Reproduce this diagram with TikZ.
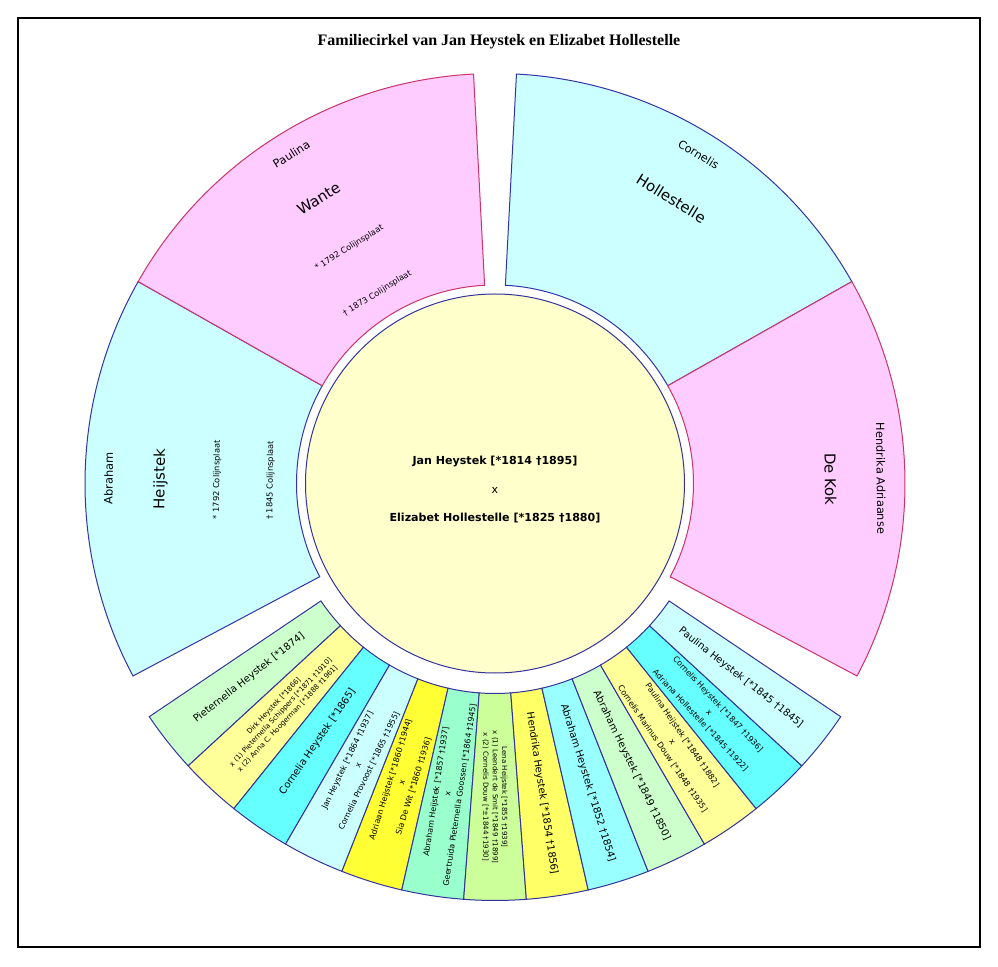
\documentclass[tikz,border=0pt]{standalone}
\usepackage{fontspec}
\setmainfont{DejaVu Sans}
\newfontfamily\titlefont{Liberation Serif}
\usepackage{tikz}
\usetikzlibrary{positioning}

\definecolor{manfill}{HTML}{CCFFFF}
\definecolor{manline}{HTML}{3333AA}
\definecolor{womanfill}{HTML}{FFCCFF}
\definecolor{womanline}{HTML}{CC3366}
\definecolor{centrefill}{HTML}{FFFFCC}
\definecolor{kidline}{HTML}{333399}
\definecolor{kidgreen}{HTML}{CCFFCC}
\definecolor{kidpale}{HTML}{FFFF99}
\definecolor{kidcyan}{HTML}{66FFFF}
\definecolor{kidice}{HTML}{CCFFFF}
\definecolor{kidyellow}{HTML}{FFFF33}
\definecolor{kidmint}{HTML}{99FFCC}
\definecolor{kidlime}{HTML}{CCFF99}
\definecolor{kidgold}{HTML}{FFFF66}
\definecolor{kidaqua}{HTML}{99FFFF}

\tikzset{
  frame/.style={draw=black, line width=1pt},
  man/.style={fill=manfill, draw=manline, line width=0.75pt},
  woman/.style={fill=womanfill, draw=womanline, line width=0.75pt},
  centre/.style={fill=centrefill, draw=kidline, line width=0.75pt},
  kid/.style={draw=kidline, line width=0.75pt},
  titletext/.style={font=\titlefont\bfseries\fontsize{12}{14}\selectfont},
  centretext/.style={font=\bfseries\fontsize{8.3}{10}\selectfont, inner sep=0pt},
  firstname/.style={font=\fontsize{8.5}{10}\selectfont, inner sep=0pt},
  surname/.style={font=\fontsize{11.2}{13}\selectfont, inner sep=0pt},
  lifedates/.style={font=\fontsize{6.2}{7}\selectfont, inner sep=0pt},
  kidname/.style={font=\fontsize{7.5}{9}\selectfont, inner sep=0pt},
  kidpair/.style={font=\fontsize{6}{9}\selectfont, align=center, inner sep=0pt},
  kidtrio/.style={font=\fontsize{5.3}{7}\selectfont, align=center, inner sep=0pt}
}

\begin{document}
\begin{tikzpicture}[x=0.75pt, y=0.75pt]
\useasboundingbox (-495,-482.5) rectangle (503,483.5);
\draw[frame] (-477,-463.5) rectangle (485,465.5); % outer frame
\node[titletext] (title) at (4,441.5) {Familiecirkel van Jan Heystek en Elizabet Hollestelle};

% parents
\filldraw[man] (150.5:198.5) -- (150.5:410) arc[start angle=150.5, end angle=208, radius=410] -- (208:198.5) arc[start angle=208, end angle=150.5, radius=198.5] -- cycle; % Heijstek
\filldraw[man] (29.5:198.5) -- (29.5:410) arc[start angle=29.5, end angle=87, radius=410] -- (87:198.5) arc[start angle=87, end angle=29.5, radius=198.5] -- cycle; % Hollestelle
\filldraw[woman] (93:198.5) -- (93:410) arc[start angle=93, end angle=150.5, radius=410] -- (150.5:198.5) arc[start angle=150.5, end angle=93, radius=198.5] -- cycle; % Wante
\filldraw[woman] (-28:198.5) -- (-28:410) arc[start angle=-28, end angle=29.5, radius=410] -- (29.5:198.5) arc[start angle=29.5, end angle=-28, radius=198.5] -- cycle; % De Kok

\node[firstname, rotate=89.25] (abrahamfirst) at (179.25:386.5) {Abraham};
\node[surname, rotate=89.25] (heijstek) at (179.25:334.5) {Heijstek};
\node[lifedates, rotate=89.25] (abrahamborn) at (179.25:278) {* 1792 Colijnsplaat};
\node[lifedates, rotate=89.25] (abrahamdied) at (179.25:224.5) {† 1845 Colijnsplaat};

\node[firstname, rotate=31.75] (paulinafirst) at (121.75:387) {Paulina};
\node[surname, rotate=31.75] (wante) at (121.75:335) {Wante};
\node[lifedates, rotate=31.75] (paulinaborn) at (121.75:277) {* 1792 Colijnsplaat};
\node[lifedates, rotate=31.75] (paulinadied) at (121.75:223.5) {† 1873 Colijnsplaat};

\node[firstname, rotate=-31.75] (cornelisfirst) at (58.25:387) {Cornelis};
\node[surname, rotate=-31.75] (hollestelle) at (58.25:335) {Hollestelle};

\node[firstname, rotate=-89.25] (hendrikafirst) at (0.75:386) {Hendrika Adriaanse};
\node[surname, rotate=-89.25] (dekok) at (0.75:335.5) {De Kok};

% centre couple
\filldraw[centre] (0,0) circle[radius=189.5];
\node[centretext] (husband) at (0,22.5) {Jan Heystek [*1814 †1895]};
\node[centretext, font=\fontsize{8.3}{10}\selectfont] (marriage) at (0,-6.5) {x};
\node[centretext] (wife) at (0,-34.5) {Elizabet Hollestelle [*1825 †1880]};

% children
\filldraw[kid, fill=kidgreen] (214:210) -- (214:417) arc[start angle=214, end angle=222.62, radius=417] -- (222.62:210) arc[start angle=222.62, end angle=214, radius=210] -- cycle;
\filldraw[kid, fill=kidpale] (222.62:210) -- (222.62:417) arc[start angle=222.62, end angle=231.23, radius=417] -- (231.23:210) arc[start angle=231.23, end angle=222.62, radius=210] -- cycle;
\filldraw[kid, fill=kidcyan] (231.23:210) -- (231.23:417) arc[start angle=231.23, end angle=239.85, radius=417] -- (239.85:210) arc[start angle=239.85, end angle=231.23, radius=210] -- cycle;
\filldraw[kid, fill=kidice] (239.85:210) -- (239.85:417) arc[start angle=239.85, end angle=248.46, radius=417] -- (248.46:210) arc[start angle=248.46, end angle=239.85, radius=210] -- cycle;
\filldraw[kid, fill=kidyellow] (248.46:210) -- (248.46:417) arc[start angle=248.46, end angle=257.08, radius=417] -- (257.08:210) arc[start angle=257.08, end angle=248.46, radius=210] -- cycle;
\filldraw[kid, fill=kidmint] (257.08:210) -- (257.08:417) arc[start angle=257.08, end angle=265.69, radius=417] -- (265.69:210) arc[start angle=265.69, end angle=257.08, radius=210] -- cycle;
\filldraw[kid, fill=kidlime] (265.69:210) -- (265.69:417) arc[start angle=265.69, end angle=274.31, radius=417] -- (274.31:210) arc[start angle=274.31, end angle=265.69, radius=210] -- cycle;
\filldraw[kid, fill=kidgold] (274.31:210) -- (274.31:417) arc[start angle=274.31, end angle=282.92, radius=417] -- (282.92:210) arc[start angle=282.92, end angle=274.31, radius=210] -- cycle;
\filldraw[kid, fill=kidaqua] (282.92:210) -- (282.92:417) arc[start angle=282.92, end angle=291.54, radius=417] -- (291.54:210) arc[start angle=291.54, end angle=282.92, radius=210] -- cycle;
\filldraw[kid, fill=kidgreen] (291.54:210) -- (291.54:417) arc[start angle=291.54, end angle=300.15, radius=417] -- (300.15:210) arc[start angle=300.15, end angle=291.54, radius=210] -- cycle;
\filldraw[kid, fill=kidpale] (300.15:210) -- (300.15:417) arc[start angle=300.15, end angle=308.77, radius=417] -- (308.77:210) arc[start angle=308.77, end angle=300.15, radius=210] -- cycle;
\filldraw[kid, fill=kidcyan] (308.77:210) -- (308.77:417) arc[start angle=308.77, end angle=317.38, radius=417] -- (317.38:210) arc[start angle=317.38, end angle=308.77, radius=210] -- cycle;
\filldraw[kid, fill=kidice] (317.38:210) -- (317.38:417) arc[start angle=317.38, end angle=326, radius=417] -- (326:210) arc[start angle=326, end angle=317.38, radius=210] -- cycle;

\node[kidname, rotate=38.31] (pieternella) at (218.31:313.5) {Pieternella Heystek [*1874]};
\node[kidtrio, rotate=46.92] (dirk) at (226.92:313.5) {Dirk Heystek [*1866]\\x (1) Pieternella Schippers [*1871 †1910]\\x (2) Anna C. Hoogerman [*1888 †1961]};
\node[kidname, rotate=55.54] (cornelia) at (235.54:313.5) {Cornelia Heystek [*1865]};
\node[kidpair, rotate=64.15] (jan) at (244.15:313.5) {Jan Heystek [*1864 †1937]\\x\\Cornelia Provoost [*1865 †1955]};
\node[kidpair, rotate=72.77] (adriaan) at (252.77:313.5) {Adriaan Heijstek [*1860 †1944]\\x\\Sia De Wit [*1860 †1936]};
\node[kidpair, rotate=81.38] (abraham57) at (261.38:313.5) {Abraham Heijstek [*1857 †1937]\\x\\Geertruida Pieternella Goossen [*1864 †1945]};
\node[kidtrio, rotate=-90] (lena) at (270:313.5) {Lena Heijstek [*1855 †1939]\\x (1) Leendert de Smit [*1849 †1899]\\x (2) Cornelis Douw [*±1844 †1930]};
\node[kidname, rotate=-81.38] (hendrika) at (278.62:313.5) {Hendrika Heystek [*1854 †1856]};
\node[kidname, rotate=-72.77] (abraham52) at (287.23:313.5) {Abraham Heystek [*1852 †1854]};
\node[kidname, rotate=-64.15] (abraham49) at (295.85:313.5) {Abraham Heystek [*1849 †1850]};
\node[kidpair, rotate=-55.54] (paulina48) at (304.46:313.5) {Paulina Heijstek [*1848 †1882]\\x\\Cornelis Marinus Douw [*1848 †1935]};
\node[kidpair, rotate=-46.92] (cornelis) at (313.08:313.5) {Cornelis Heystek [*1847 †1936]\\x\\Adriana Hollestelle [*1845 †1922]};
\node[kidname, rotate=-38.31] (paulina45) at (321.69:313.5) {Paulina Heystek [*1845 †1845]};

\end{tikzpicture}
\end{document}
